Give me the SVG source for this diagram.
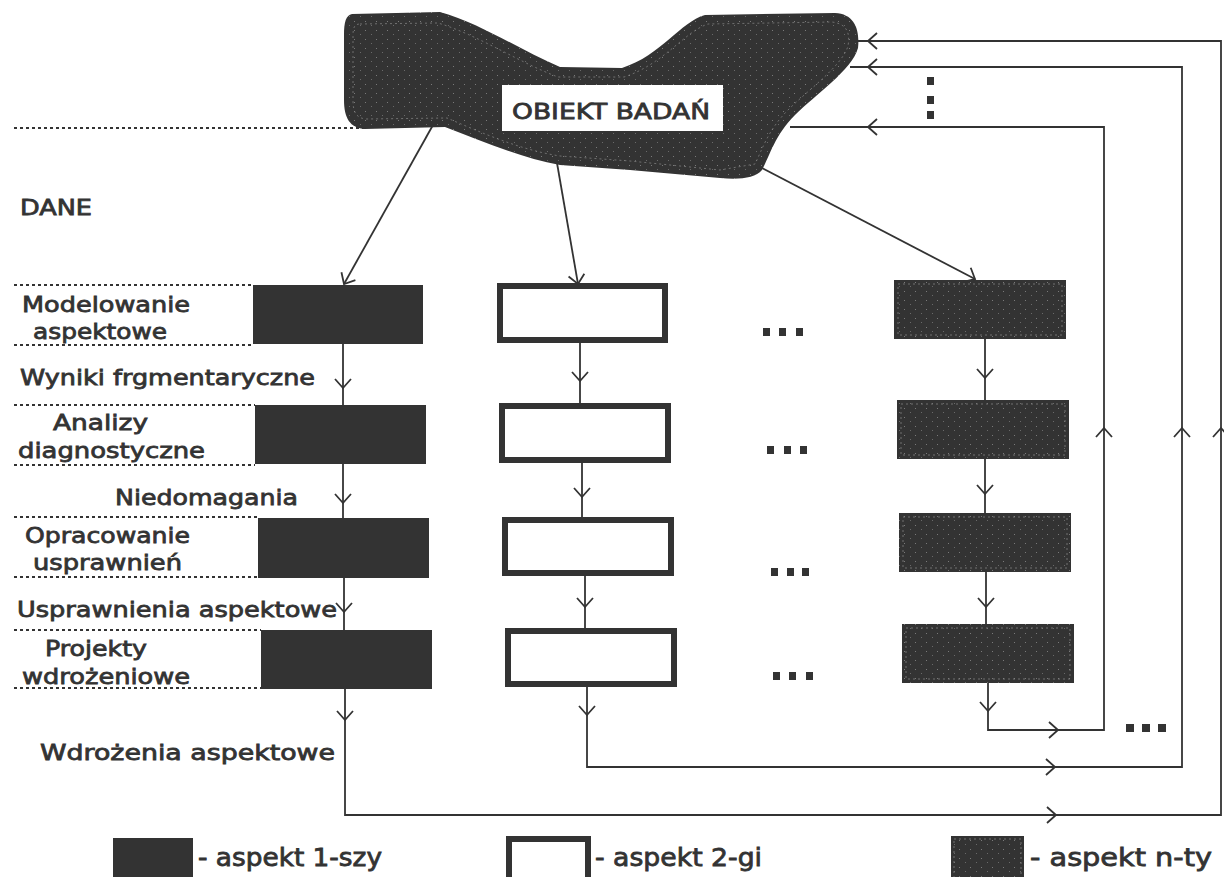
<svg xmlns="http://www.w3.org/2000/svg" xmlns:xlink="http://www.w3.org/1999/xlink" width="1224" height="877" viewBox="0 0 1224 877">
<style>
  .t { font-family: "DejaVu Sans", "Liberation Sans", sans-serif; font-size: 22px; fill: #333; stroke: #333; stroke-width: 0.8; }
  .lg { font-size: 25px; }
  .sep { stroke: #333; stroke-width: 1.8; stroke-dasharray: 3 3; fill: none; }
  .con { stroke: #333; stroke-width: 1.8; fill: none; }
  .ah { stroke: #333; stroke-width: 1.8; fill: none; }
  .b1 { fill: #333; }
  .b2 { fill: #fff; stroke: #333; stroke-width: 6; }
  .bn { fill: url(#speck); }
  .bnin { fill: none; stroke: #8a8a8a; stroke-width: 0.7; stroke-dasharray: 2 3; }
  .dot { fill: #333; }
</style>
<defs>
  <pattern id="speck" width="11" height="9" patternUnits="userSpaceOnUse">
    <rect width="11" height="9" fill="#333"/>
    <rect x="2" y="3" width="1" height="1" fill="#7a7a7a"/>
    <rect x="8" y="7" width="1" height="1" fill="#6a6a6a"/>
  </pattern>
  <path id="arr" d="M-9,-8 L0,0 L-9,8"/>
</defs>

<g id="obiekt-badan">
  <path class="bn" d="M352,14 L440,12 C482,24 520,50 560,67 L622,68 C662,55 680,22 705,15 L835,13 C855,14 860,30 858,48 C852,70 815,95 795,115 C775,135 770,155 762,170 C755,178 740,180 720,178 L630,170 L560,165 C520,158 480,140 445,127 L365,129 C350,128 344,118 344,100 L344,35 C344,22 346,15 352,14 Z"/>
  <path class="bnin" d="M360,24 L438,23 C478,35 518,62 558,77 L624,77 C664,64 684,32 708,24 L832,22 C848,24 850,34 848,46 C842,66 808,90 788,110 C768,130 762,150 755,164 L720,170 L630,161 L560,156 C520,150 480,132 447,118 L366,119 C356,118 353,112 353,100 L353,36 C353,28 354,24 360,24 Z"/>
  <rect x="502" y="85" width="221" height="46" fill="#fff"/>
  <text class="t" x="512" y="119" font-size="27" textLength="198" lengthAdjust="spacingAndGlyphs">OBIEKT BADAŃ</text>
</g>

<g id="separators">
  <line class="sep" x1="14" y1="128" x2="365" y2="128"/>
  <line class="sep" x1="14" y1="285" x2="253" y2="285"/>
  <line class="sep" x1="14" y1="345" x2="253" y2="345"/>
  <line class="sep" x1="14" y1="405" x2="255" y2="405"/>
  <line class="sep" x1="14" y1="465" x2="255" y2="465"/>
  <line class="sep" x1="14" y1="517" x2="258" y2="517"/>
  <line class="sep" x1="14" y1="577" x2="258" y2="577"/>
  <line class="sep" x1="14" y1="630" x2="261" y2="630"/>
  <line class="sep" x1="14" y1="688" x2="261" y2="688"/>
</g>

<g id="labels">
  <text class="t" x="20" y="215" font-size="24" textLength="72" lengthAdjust="spacingAndGlyphs">DANE</text>
  <text class="t" x="22" y="312" textLength="168" lengthAdjust="spacingAndGlyphs">Modelowanie</text>
  <text class="t" x="33" y="339" textLength="134" lengthAdjust="spacingAndGlyphs">aspektowe</text>
  <text class="t" x="20" y="385" textLength="295" lengthAdjust="spacingAndGlyphs">Wyniki frgmentaryczne</text>
  <text class="t" x="53" y="430" textLength="95" lengthAdjust="spacingAndGlyphs">Analizy</text>
  <text class="t" x="18" y="458" textLength="187" lengthAdjust="spacingAndGlyphs">diagnostyczne</text>
  <text class="t" x="115" y="505" textLength="183" lengthAdjust="spacingAndGlyphs">Niedomagania</text>
  <text class="t" x="25" y="543" textLength="165" lengthAdjust="spacingAndGlyphs">Opracowanie</text>
  <text class="t" x="33" y="570" textLength="149" lengthAdjust="spacingAndGlyphs">usprawnień</text>
  <text class="t" x="17" y="617" textLength="320" lengthAdjust="spacingAndGlyphs">Usprawnienia aspektowe</text>
  <text class="t" x="45" y="656" textLength="102" lengthAdjust="spacingAndGlyphs">Projekty</text>
  <text class="t" x="22" y="684" textLength="168" lengthAdjust="spacingAndGlyphs">wdrożeniowe</text>
  <text class="t" x="40" y="760" textLength="295" lengthAdjust="spacingAndGlyphs">Wdrożenia aspektowe</text>
</g>

<g id="aspekt-1">
  <rect class="b1" x="253" y="285" width="170" height="59"/>
  <rect class="b1" x="255" y="405" width="171" height="59"/>
  <rect class="b1" x="258" y="518" width="171" height="60"/>
  <rect class="b1" x="261" y="630" width="171" height="59"/>
</g>

<g id="aspekt-2">
  <rect class="b2" x="500" y="286" width="165" height="54"/>
  <rect class="b2" x="502" y="406" width="166" height="54"/>
  <rect class="b2" x="505" y="520" width="166" height="53"/>
  <rect class="b2" x="508" y="631" width="166" height="53"/>
</g>

<g id="aspekt-n">
  <rect class="bn" x="894" y="280" width="172" height="59"/>
  <rect class="bnin" x="898" y="284" width="164" height="51"/>
  <rect class="bn" x="897" y="400" width="172" height="59"/>
  <rect class="bnin" x="901" y="404" width="164" height="51"/>
  <rect class="bn" x="899" y="513" width="172" height="59"/>
  <rect class="bnin" x="903" y="517" width="164" height="51"/>
  <rect class="bn" x="902" y="624" width="172" height="59"/>
  <rect class="bnin" x="906" y="628" width="164" height="51"/>
</g>

<g id="ellipses">
  <rect class="dot" x="763" y="328" width="7" height="8"/>
  <rect class="dot" x="779" y="328" width="7" height="8"/>
  <rect class="dot" x="796" y="328" width="7" height="8"/>
  <rect class="dot" x="767" y="446" width="7" height="8"/>
  <rect class="dot" x="784" y="446" width="7" height="8"/>
  <rect class="dot" x="800" y="446" width="7" height="8"/>
  <rect class="dot" x="771" y="568" width="7" height="8"/>
  <rect class="dot" x="787" y="568" width="7" height="8"/>
  <rect class="dot" x="802" y="568" width="7" height="8"/>
  <rect class="dot" x="773" y="672" width="7" height="8"/>
  <rect class="dot" x="789" y="672" width="7" height="8"/>
  <rect class="dot" x="806" y="672" width="7" height="8"/>
  <rect class="dot" x="1126" y="724" width="8" height="8"/>
  <rect class="dot" x="1142" y="724" width="8" height="8"/>
  <rect class="dot" x="1158" y="724" width="8" height="8"/>
  <rect class="dot" x="927" y="77" width="7" height="8"/>
  <rect class="dot" x="927" y="96" width="7" height="8"/>
  <rect class="dot" x="927" y="111" width="7" height="8"/>
</g>

<g id="connectors">
  <line class="con" x1="433" y1="125" x2="344" y2="284"/>
  <line class="con" x1="557" y1="163" x2="578" y2="284"/>
  <line class="con" x1="762" y1="168" x2="975" y2="279"/>
  <line class="con" x1="343" y1="344" x2="343" y2="405"/>
  <line class="con" x1="343" y1="464" x2="343" y2="518"/>
  <line class="con" x1="344" y1="578" x2="344" y2="630"/>
  <path class="con" d="M345,689 L345,815 L1221,815 L1221,41 L858,41"/>
  <line class="con" x1="580" y1="343" x2="580" y2="403"/>
  <line class="con" x1="582" y1="463" x2="582" y2="517"/>
  <line class="con" x1="585" y1="576" x2="585" y2="628"/>
  <path class="con" d="M587,687 L587,767 L1182,767 L1182,67 L850,67"/>
  <line class="con" x1="985" y1="339" x2="985" y2="400"/>
  <line class="con" x1="985" y1="459" x2="985" y2="513"/>
  <line class="con" x1="986" y1="572" x2="986" y2="624"/>
  <path class="con" d="M988,683 L988,730 L1104,730 L1104,127 L790,127"/>
  <use class="ah" xlink:href="#arr" transform="translate(344,284) rotate(119.4)"/>
  <use class="ah" xlink:href="#arr" transform="translate(578,284) rotate(80.1)"/>
  <use class="ah" xlink:href="#arr" transform="translate(975,279) rotate(27.5)"/>
  <use class="ah" xlink:href="#arr" transform="translate(343,388) rotate(90)"/>
  <use class="ah" xlink:href="#arr" transform="translate(343,503) rotate(90)"/>
  <use class="ah" xlink:href="#arr" transform="translate(344,612) rotate(90)"/>
  <use class="ah" xlink:href="#arr" transform="translate(345,720) rotate(90)"/>
  <use class="ah" xlink:href="#arr" transform="translate(580,381) rotate(90)"/>
  <use class="ah" xlink:href="#arr" transform="translate(582,497) rotate(90)"/>
  <use class="ah" xlink:href="#arr" transform="translate(585,607) rotate(90)"/>
  <use class="ah" xlink:href="#arr" transform="translate(587,715) rotate(90)"/>
  <use class="ah" xlink:href="#arr" transform="translate(985,378) rotate(90)"/>
  <use class="ah" xlink:href="#arr" transform="translate(985,494) rotate(90)"/>
  <use class="ah" xlink:href="#arr" transform="translate(986,607) rotate(90)"/>
  <use class="ah" xlink:href="#arr" transform="translate(988,711) rotate(90)"/>
  <use class="ah" xlink:href="#arr" transform="translate(1058,730)"/>
  <use class="ah" xlink:href="#arr" transform="translate(1055,767)"/>
  <use class="ah" xlink:href="#arr" transform="translate(1056,815)"/>
  <use class="ah" xlink:href="#arr" transform="translate(1104,428) rotate(-90)"/>
  <use class="ah" xlink:href="#arr" transform="translate(1182,428) rotate(-90)"/>
  <use class="ah" xlink:href="#arr" transform="translate(1221,428) rotate(-90)"/>
  <use class="ah" xlink:href="#arr" transform="translate(868,41) rotate(180)"/>
  <use class="ah" xlink:href="#arr" transform="translate(868,67) rotate(180)"/>
  <use class="ah" xlink:href="#arr" transform="translate(868,127) rotate(180)"/>
</g>

<g id="legend">
  <rect class="b1" x="113" y="838" width="80" height="42"/>
  <text class="t lg" x="198" y="866" textLength="184" lengthAdjust="spacingAndGlyphs">- aspekt 1-szy</text>
  <rect class="b2" x="509" y="839" width="79" height="44"/>
  <text class="t lg" x="595" y="866" textLength="167" lengthAdjust="spacingAndGlyphs">- aspekt 2-gi</text>
  <rect class="bn" x="951" y="836" width="73" height="44"/>
  <rect class="bnin" x="954" y="839" width="67" height="40"/>
  <text class="t lg" x="1030" y="866" textLength="182" lengthAdjust="spacingAndGlyphs">- aspekt n-ty</text>
</g>
</svg>
